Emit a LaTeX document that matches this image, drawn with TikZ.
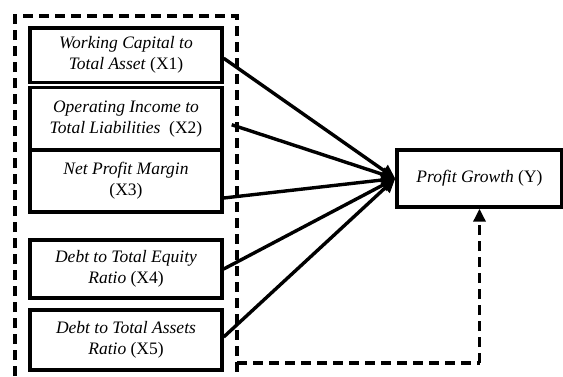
\documentclass[tikz,border=0pt]{standalone}
\usepackage{fontspec}
\setmainfont{Liberation Serif}
\usetikzlibrary{arrows.meta,calc}
\tikzset{
  var/.style={draw, line width=3.4pt, minimum width=192pt, inner sep=0pt,
    align=center, font=\fontsize{17.5}{21}\selectfont},
  arr/.style={line width=3.4pt, -{Triangle[length=14pt,width=13pt]}},
  frame/.style={line width=3.4pt, dash pattern=on 10pt off 6pt}
}
\begin{document}
\begin{tikzpicture}[x=1pt,y=-1pt]
\useasboundingbox (0,0) rectangle (563,376);
\node[var, minimum height=54.5pt] at (126,55.25) (x1) {\textit{Working Capital to}\\\textit{Total Asset} (X1)};
\node[var, minimum height=62.5pt] at (126,118.75) (x2) {\textit{Operating Income to}\\\textit{Total Liabilities}\ \ (X2)};
\node[var, minimum height=62pt] at (126,181) (x3) {\textit{Net Profit Margin}\\(X3)};
\node[var, minimum height=58pt] at (126,269) (x4) {\textit{Debt to Total Equity}\\\textit{Ratio} (X4)};
\node[var, minimum height=60pt] at (126,340) (x5) {\textit{Debt to Total Assets}\\\textit{Ratio} (X5)};

\node[var, minimum width=165pt, minimum height=57pt] at (479.5,178.5) (y) {\textit{Profit Growth} (Y)};

% dashed frame round the predictors
\draw[frame] (15,376) -- (15,16) -- (237,16) -- (237,376);
\coordinate (c1) at (237,363);
\coordinate (c2) at (y.south |- c1);
\draw[frame] (c1) -- (c2);
\draw[frame, -{Triangle[length=13pt,width=12pt]}] (c2) -- (y.south);

\draw[arr] ($(x1.east)+(0,3)$) -- (y.west);
\draw[arr] ($(x2.east)+(8,6)$) -- (y.west);
\draw[arr] ($(x3.east)+(0,17)$) -- (y.west);
\draw[arr] (x4.east) -- (y.west);
\draw[arr] ($(x5.east)+(0,-3)$) -- (y.west);
\end{tikzpicture}
\end{document}
